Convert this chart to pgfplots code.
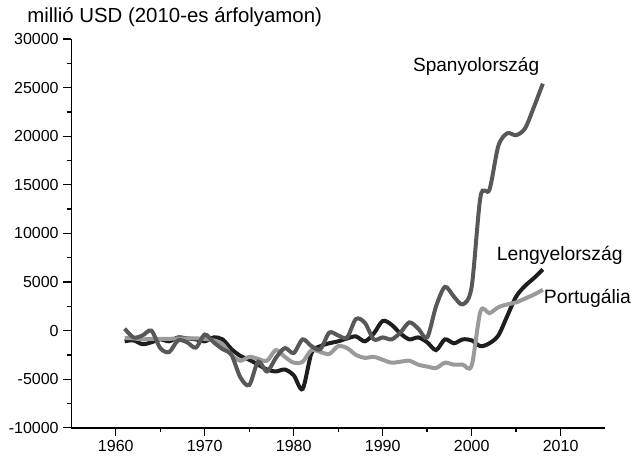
\documentclass[border=0pt]{standalone}
\usepackage{fontspec}
\setmainfont{Liberation Sans}
\usepackage{pgfplots}
\pgfplotsset{compat=1.18}
\definecolor{spain}{HTML}{58585A}
\definecolor{poland}{HTML}{1E1E1E}
\definecolor{portugal}{HTML}{9A9A9A}

\begin{document}
\begin{tikzpicture}
\begin{axis}[
    scale only axis, width=400.5pt, height=291.75pt,
    xmin=1955, xmax=2015, ymin=-10000, ymax=30000,
    axis x line=bottom, axis y line=left,
    axis line style={-, line width=1.1pt, black},
    xtick={1960,1970,...,2010}, minor x tick num=1,
    ytick={-10000,-5000,...,30000}, minor y tick num=1,
    scaled y ticks=false,
    tick align=outside, tick style={black, line width=1pt},
    major tick length=6pt, minor tick length=3.5pt,
    /pgf/number format/1000 sep={},
    /pgf/number format/fixed,
    /pgf/number format/assume math mode=true,
    tick label style={font=\fontsize{12}{14}\selectfont},
    clip=false,
]
  \addplot[poland, line width=3pt, smooth, no markers] coordinates {
    (1961,-1100) (1962,-1000) (1963,-1400) (1964,-1200) (1965,-900)
    (1966,-1100) (1967,-700) (1968,-800) (1969,-900) (1970,-1100)
    (1971,-700) (1972,-900) (1973,-1900) (1974,-2600) (1975,-3000)
    (1976,-3500) (1977,-4000) (1978,-4200) (1979,-4000) (1980,-4600)
    (1981,-6000) (1982,-2300) (1983,-1600) (1984,-1300) (1985,-1100)
    (1986,-800) (1987,-600) (1988,-1100) (1989,-300) (1990,1000)
    (1991,600) (1992,-300) (1993,-900) (1994,-700) (1995,-1200)
    (1996,-2000) (1997,-900) (1998,-1300) (1999,-900) (2000,-1000)
    (2001,-1600) (2002,-1300) (2003,-500) (2004,1500) (2005,3500)
    (2006,4600) (2007,5400) (2008,6300)};
  \addplot[portugal, line width=3pt, smooth, no markers] coordinates {
    (1961,-750) (1962,-800) (1963,-900) (1964,-850) (1965,-850)
    (1966,-850) (1967,-800) (1968,-800) (1969,-800) (1970,-850)
    (1971,-1000) (1972,-1400) (1973,-2500) (1974,-3100) (1975,-2700)
    (1976,-2900) (1977,-3100) (1978,-2000) (1979,-2700) (1980,-3300)
    (1981,-3200) (1982,-2000) (1983,-2200) (1984,-2400) (1985,-1600)
    (1986,-1800) (1987,-2500) (1988,-2800) (1989,-2700) (1990,-3000)
    (1991,-3300) (1992,-3200) (1993,-3100) (1994,-3500) (1995,-3700)
    (1996,-3850) (1997,-3300) (1998,-3500) (1999,-3500) (2000,-3600)
    (2001,2000) (2002,1800) (2003,2400) (2004,2700) (2005,2900)
    (2006,3300) (2007,3700) (2008,4200)};
  \addplot[spain, line width=3pt, smooth, no markers] coordinates {
    (1961,200) (1962,-700) (1963,-500) (1964,0) (1965,-1800)
    (1966,-2200) (1967,-1000) (1968,-1200) (1969,-1750) (1970,-400)
    (1971,-1200) (1972,-1900) (1973,-2500) (1974,-4800) (1975,-5600)
    (1976,-3200) (1977,-4200) (1978,-2800) (1979,-1800) (1980,-2300)
    (1981,-900) (1982,-1600) (1983,-1900) (1984,-200) (1985,-500)
    (1986,-700) (1987,1200) (1988,800) (1989,-900) (1990,-700)
    (1991,-900) (1992,-200) (1993,850) (1994,200) (1995,-700)
    (1996,2500) (1997,4500) (1998,3500) (1999,2700) (2000,4500)
    (2001,13800) (2002,14500) (2003,19000) (2004,20300) (2005,20100)
    (2006,20800) (2007,23000) (2008,25400)};
  \node[font=\fontsize{14.3}{16}\selectfont] at (axis cs:2000.5,27220) {Spanyolország};
  \node[font=\fontsize{14.5}{16}\selectfont] at (axis cs:2009.9,7690) {Lengyelország};
  \node[font=\fontsize{14.5}{16}\selectfont, anchor=west, inner sep=0pt] at (axis cs:2008.1,3270) {Portugália};
  \node[font=\fontsize{15.3}{17}\selectfont, anchor=base west, inner sep=0pt]
    at ([xshift=-33.2pt, yshift=12.2pt]rel axis cs:0,1) {millió USD (2010-es árfolyamon)};
\end{axis}
\path (current axis.south west) ++(-53.5pt,-24.75pt) coordinate (bbsw);
\path (current axis.north east) ++(19.3pt,29.25pt) coordinate (bbne);
\path (bbsw) rectangle (bbne);
\end{tikzpicture}
\end{document}
